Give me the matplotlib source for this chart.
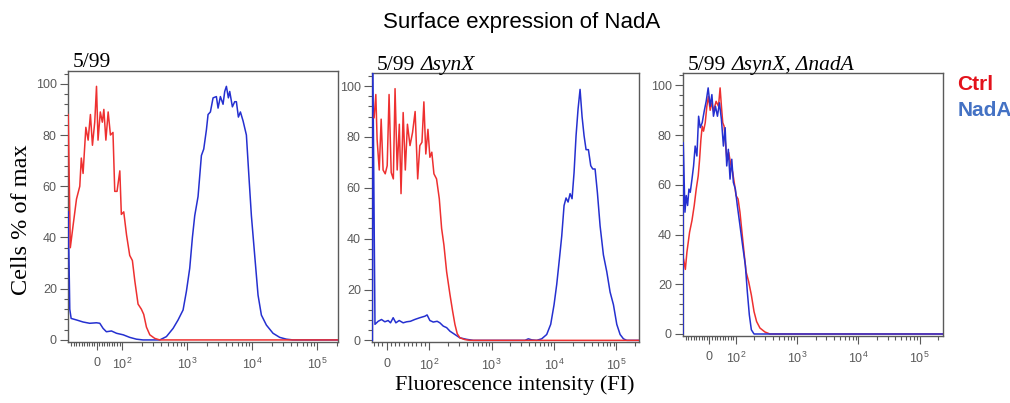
import numpy as np
import matplotlib
matplotlib.use("Agg")
import matplotlib.pyplot as plt
from matplotlib.ticker import AutoMinorLocator

plt.rcParams['font.family'] = ['Liberation Sans', 'DejaVu Sans']
plt.rcParams['mathtext.fontset'] = 'custom'
plt.rcParams['mathtext.rm'] = 'Liberation Sans'
plt.rcParams['mathtext.it'] = 'Liberation Sans:italic'

# 数据：荧光强度 (FI) 与 % of max
p1_ctrl_fi = [-112, -104, -93, -80, -67, -61, -54, -43, -34, -25, -17, -8, -1, 5, 14, 22, 28, 36, 45, 54,
              64, 71, 80, 91, 97, 106, 117, 131, 144, 157, 176, 198, 215, 237, 267, 318, 380, 210000]
p1_ctrl_pct = [88, 36, 45, 55, 60, 71, 65, 83, 78, 88, 76, 85, 99, 78, 89, 85, 90, 78, 89, 80,
               81, 58, 58, 66, 49, 50, 41, 33, 31, 23, 14, 12, 10, 5, 2, 0.6, 0, 0]
p1_nada_fi = [-112, -106, -101, -80, -54, -28, -1, 12, 25, 38, 58, 78, 104, 131, 166, 210, 380, 481, 609, 727,
              868, 977, 1099, 1208, 1312, 1476, 1662, 1805, 1984, 2104, 2286, 2512, 2826, 3000, 3258, 3580,
              3798, 4029, 4324, 4534, 4982, 5410, 5741, 6166, 6620, 7277, 8185, 8995, 9772, 10990, 12370,
              13930, 16630, 21040, 26670, 33760, 42760, 210000]
p1_nada_pct = [50, 12, 8.4, 7.8, 7, 6.5, 6.7, 6.5, 4.5, 3.2, 3.5, 2.6, 2, 1, 0.3, 0, 0, 1.3, 4.5, 7.8,
               11.7, 19, 28, 40, 48.5, 56, 72, 74.5, 82, 88, 89, 94.5, 95, 90.5, 95, 92, 97, 99, 94.5, 97,
               91, 93, 93, 87, 89, 85.5, 80, 63, 48.5, 33, 17.5, 9.7, 5.8, 2.6, 1, 0.3, 0, 0]

p2_ctrl_fi = [-29, -25, -22, -17, -12.5, -8, -3, 1.6, 6, 11, 16, 20, 25, 30, 34, 39, 44, 49, 55, 61,
              67, 73, 78, 83, 87.5, 92, 97, 102.5, 110, 119, 131, 145, 158, 172, 190, 215, 237, 258,
              281, 310, 373, 449, 230000]
p2_ctrl_pct = [87.6, 96.7, 79, 67, 87, 67, 65.5, 68.7, 96.7, 66, 63.5, 99, 67, 85, 57.7, 89.6, 67, 85,
               76.6, 81.8, 90, 63.5, 76.6, 77.9, 93.8, 73.3, 83, 72, 74, 65.5, 63.5, 55.7, 44, 37.5,
               27, 18, 11.5, 6.3, 2.6, 1, 0.3, 0, 0]
p2_nada_fi = [-33, -32, -27, -19.5, -11.7, -3.9, 3.9, 9.4, 15.6, 21.9, 29.7, 39, 47, 56, 66, 78, 90, 95,
              102.5, 116, 134, 148, 168, 190, 215, 258, 310, 397, 508, 3425, 3874, 4385, 5272, 6340,
              7625, 8843, 10000, 11040, 12190, 13280, 14470, 15580, 16780, 18060, 19440, 20930, 22530,
              24260, 26120, 28120, 30270, 32590, 35540, 38730, 41690, 45460, 49550, 54700, 61800,
              69980, 79070, 89520, 101200, 114500, 129500, 146600, 230000]
p2_nada_pct = [0, 110, 6.3, 7.5, 8.2, 7.3, 7.8, 6.9, 8.9, 6.9, 7.8, 6.9, 7.3, 7.5, 8.2, 8.9, 9.5, 10,
               7.8, 7.2, 7.5, 6.9, 5.6, 5, 3.6, 2.3, 1, 0.4, 0, 0, 0.6, 0.2, 0, 0.6, 2.3, 6.3, 14, 22,
               32, 41, 53, 56, 54.4, 57.7, 55.7, 66, 80.5, 91, 98.7, 88, 80.5, 75, 75, 68.7, 67.4, 67.4,
               58, 45, 33.6, 27, 19, 14, 6.3, 2.3, 0.6, 0, 0]

p3_ctrl_fi = [-97.5, -91, -85, -75, -66, -57.5, -50, -42.5, -37.5, -32.5, -27.5, -22.5, -16, -10, -4,
              2.5, 9, 15, 25, 34, 40, 45, 50, 55, 60, 65, 72.5, 80, 87.5, 95, 100, 108, 116, 125, 135,
              146, 161, 178, 197, 217, 246, 297, 358, 240000]
p3_ctrl_pct = [30, 26, 33, 41, 45.7, 51.7, 58.3, 63.6, 70, 78, 83.6, 81.6, 85, 91.6, 95.6, 90, 93, 89.6,
               93.6, 91.6, 99, 91.6, 85, 83.6, 77, 71, 73, 68.3, 65, 59.7, 55.7, 54.3, 49, 41, 33, 25,
               21, 15.7, 9, 5, 2.4, 0.8, 0, 0]
p3_nada_fi = [-99.5, -99, -92.5, -87.5, -82.5, -77.5, -72.5, -66, -60, -54, -47.5, -41, -35, -27.5, -20,
              -12.5, -5, 2.5, 9, 15, 22.5, 30, 37.5, 45, 52.5, 59, 65, 71, 77.5, 84, 90, 97.5, 105, 116,
              128, 142, 153, 165, 178, 197, 240000]
p3_nada_pct = [0, 77, 49, 55.7, 51.7, 58.3, 57, 62.3, 67.6, 75.6, 71.6, 87.6, 83, 85, 89.6, 93.6, 99,
               91.6, 96.3, 87.6, 91.6, 87.6, 93, 86.3, 75.6, 83, 67.6, 74.3, 62.3, 70.3, 61, 58.3, 51.7,
               43.7, 35.7, 27.7, 17, 7.7, 1.7, 0, 0]

major_ticks = [0, 100, 1000, 10000, 100000]
major_labels = ['0', '$10^2$', '$10^3$', '$10^4$', '$10^5$']

red = '#ee3030'
blue = '#2530d0'
gray = '#5a5a5a'

fig = plt.figure(figsize=(10.1, 4.03), dpi=100)

panels = [
    # (axes rect, linscale, xlim, title italic part, data, blue on top)
    ([0.0673, 0.1514, 0.2673, 0.6725], 0.351, (-113, 2.1e5), None,
     (p1_ctrl_fi, p1_ctrl_pct, p1_nada_fi, p1_nada_pct), False),
    ([0.3683, 0.1504, 0.2644, 0.6675], 0.616, (-34, 2.3e5), 'ΔsynX',
     (p2_ctrl_fi, p2_ctrl_pct, p2_nada_fi, p2_nada_pct), False),
    ([0.6762, 0.1663, 0.2574, 0.6526], 0.39, (-100, 2.4e5), 'ΔsynX, ΔnadA',
     (p3_ctrl_fi, p3_ctrl_pct, p3_nada_fi, p3_nada_pct), True),
]

for rect, lsc, xl, ital, (cx, cy, nx, ny), blue_top in panels:
    ax = fig.add_axes(rect)
    ax.set_xscale('symlog', linthresh=100, linscale=lsc)
    if blue_top:
        ax.plot(cx, cy, color=red, lw=1.1, zorder=3)
        ax.plot(nx, ny, color=blue, lw=1.1, zorder=4)
    else:
        ax.plot(nx, ny, color=blue, lw=1.1, zorder=3)
        ax.plot(cx, cy, color=red, lw=1.1, zorder=4)
    ax.set_xlim(*xl)
    ax.set_ylim(-0.8, 105)
    ax.set_xticks(major_ticks)
    ax.set_xticklabels(major_labels)
    minors = [v for v in range(-100, 100, 10) if v != 0 and v > xl[0]]
    for dec in [100, 1000, 10000]:
        minors += [k * dec for k in range(2, 10)]
    minors.append(200000)
    ax.set_xticks(minors, minor=True)
    ax.set_yticks([0, 20, 40, 60, 80, 100])
    ax.yaxis.set_minor_locator(AutoMinorLocator(5))
    ax.tick_params(which='both', direction='out', color=gray, labelcolor=gray,
                   labelsize=9, width=0.8)
    ax.tick_params(which='major', length=6, pad=2)
    ax.tick_params(which='minor', length=3)
    ax.tick_params(axis='x', pad=5)
    for sp in ax.spines.values():
        sp.set_color(gray)
        sp.set_linewidth(1.0)

    t1 = ax.annotate('5/99', xy=(0, 1), xycoords='axes fraction', xytext=(3.5, 2.5),
                     textcoords='offset points', ha='left', va='baseline',
                     family='Liberation Serif', fontsize=15.5)
    if ital:
        ax.annotate(ital, xy=(1, 0), xycoords=t1, xytext=(4, 0), textcoords='offset points',
                    ha='left', va='bottom', family='Liberation Serif', style='italic',
                    fontsize=15.5)

fig.text(0.516, 0.943, 'Surface expression of NadA', ha='center', va='center', fontsize=16)
fig.text(0.021, 0.454, 'Cells % of max', rotation=90, ha='center', va='center',
         family='Liberation Serif', fontsize=17.5)
fig.text(0.51, 0.045, 'Fluorescence intensity (FI)', ha='center', va='center',
         family='Liberation Serif', fontsize=16)
fig.text(0.948, 0.79, 'Ctrl', color='#e3121b', fontweight='bold', fontsize=15, va='center')
fig.text(0.948, 0.727, 'NadA', color='#4472c4', fontweight='bold', fontsize=15, va='center')

fig.savefig('out.png', dpi=100)
